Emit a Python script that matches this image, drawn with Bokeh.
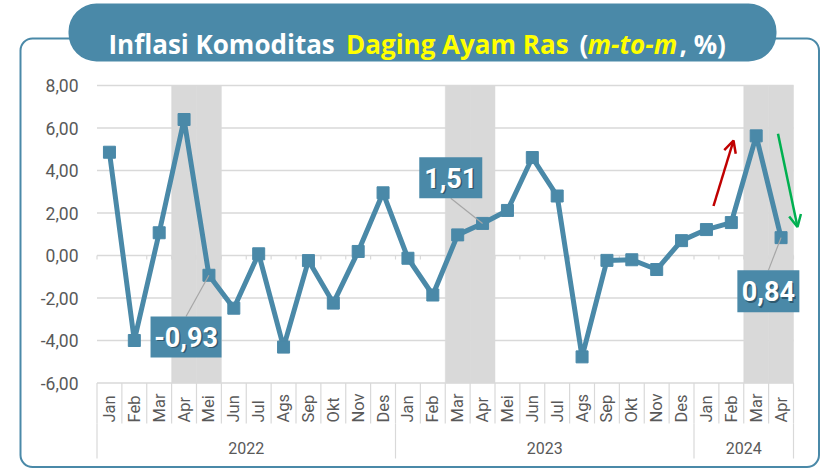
import numpy as np
from bokeh.plotting import figure
from bokeh.models import Range1d, BoxAnnotation, Label, Arrow, OpenHead
from bokeh.core.properties import value
from bokeh.embed import file_html
from bokeh.resources import INLINE

# ---------------- data ----------------
years = ["2022", "2023", "2024"]
months_2022 = ["Jan", "Feb", "Mar", "Apr", "Mei", "Jun", "Jul", "Ags", "Sep", "Okt", "Nov", "Des"]
months_2023 = ["Jan", "Feb", "Mar", "Apr", "Mei", "Jun", "Jul", "Ags", "Sep", "Okt", "Nov", "Des"]
months_2024 = ["Jan", "Feb", "Mar", "Apr"]
inflasi_2022 = [4.86, -4.00, 1.07, 6.40, -0.93, -2.48, 0.08, -4.31, -0.24, -2.24, 0.19, 2.95]
inflasi_2023 = [-0.13, -1.86, 0.97, 1.51, 2.12, 4.61, 2.80, -4.77, -0.23, -0.20, -0.66, 0.70]
inflasi_2024 = [1.22, 1.55, 5.63, 0.84]
y_ticks = [-6, -4, -2, 0, 2, 4, 6, 8]
shaded_periods = [("2022", "Apr"), ("2022", "Mei"), ("2023", "Mar"), ("2023", "Apr"),
                  ("2024", "Mar"), ("2024", "Apr")]
labelled_periods = [("2022", "Mei"), ("2023", "Apr"), ("2024", "Apr")]
title_parts = ["Inflasi Komoditas", "Daging Ayam Ras", "(", "m-to-m", ", %)"]

months_by_year = {"2022": months_2022, "2023": months_2023, "2024": months_2024}
values_by_year = {"2022": inflasi_2022, "2023": inflasi_2023, "2024": inflasi_2024}
periods, months, vals = [], [], []
for y in years:
    for m, v in zip(months_by_year[y], values_by_year[y]):
        periods.append((y, m))
        months.append(m)
        vals.append(v)
N = len(periods)
xpos = [i + 0.5 for i in range(N)]          # category centres on the x scale

# ---------------- styles / geometry ----------------
BLUE = "#4a89a8"
GRID = "#d9d9d9"
TXT = "#595959"
AXF = "Roboto"
W, H = 820, 468
X0, X1 = 96.5, 793.0          # plot-area left/right (px)
Y8 = 85.0                     # px position of the top tick
PX_U = 21.25                  # px per y unit
PX_C = (X1 - X0) / N          # px per category


def cx(px):  # canvas px -> x coordinate
    return (px - X0) / PX_C


def cy(py):  # canvas px -> y coordinate
    return y_ticks[-1] - (py - Y8) / PX_U


p = figure(width=W, height=H, x_range=Range1d(cx(0), cx(W)), y_range=Range1d(cy(H), cy(0)),
           output_backend="svg", toolbar_location=None,
           x_axis_location=None, y_axis_location=None,
           min_border=0, min_border_left=0, min_border_right=0,
           min_border_top=0, min_border_bottom=0)
p.xgrid.visible = False
p.ygrid.visible = False
p.outline_line_color = None
p.background_fill_color = "white"
p.border_fill_color = "white"

# shaded months
shade_x = [periods.index(sp) + 0.5 for sp in shaded_periods]
p.vbar(x=shade_x, width=1.0, bottom=y_ticks[0], top=y_ticks[-1], fill_color=GRID,
       line_color=GRID, line_width=0.5)

# horizontal gridlines + y tick labels
p.segment(x0=[0] * len(y_ticks), x1=[N] * len(y_ticks), y0=y_ticks, y1=y_ticks,
          line_color=GRID, line_width=1.5)
p.text(x=[cx(78)] * len(y_ticks), y=y_ticks,
       text=[f"{t:.2f}".replace(".", ",") for t in y_ticks],
       text_align="right", text_baseline="middle", text_font=value(AXF),
       text_font_size="17.5px", text_color=TXT)

# category axis furniture (boundaries)
bounds = [float(b) for b in range(N + 1)]
month_end = cy(423)
p.segment(x0=bounds, y0=[y_ticks[0]] * len(bounds), x1=bounds, y1=[month_end] * len(bounds),
          line_color=GRID, line_width=1.2)
year_bounds = [0.0]
for y in years:
    year_bounds.append(year_bounds[-1] + len(months_by_year[y]))
p.segment(x0=year_bounds, y0=[month_end] * len(year_bounds), x1=year_bounds,
          y1=[cy(458)] * len(year_bounds), line_color=GRID, line_width=1.2)
# zero-line tick marks
p.segment(x0=bounds, y0=[0] * len(bounds), x1=bounds, y1=[-4 / PX_U] * len(bounds),
          line_color=GRID, line_width=1.2)

p.text(x=xpos, y=[cy(422)] * N, text=months, angle=np.pi / 2, text_align="left",
       text_baseline="middle", text_font=value(AXF), text_font_size="16.5px", text_color=TXT)
year_centers = [(a + b) / 2 for a, b in zip(year_bounds[:-1], year_bounds[1:])]
p.text(x=year_centers, y=[cy(447)] * len(years), text=years,
       text_align="center", text_baseline="middle", text_font=value(AXF),
       text_font_size="16px", text_color=TXT)

# main series
p.line(x=xpos, y=vals, line_color=BLUE, line_width=5, line_join="round")
p.scatter(x=xpos, y=vals, marker="square", size=12, fill_color=BLUE, line_color=BLUE)

# data labels (box offsets in px relative to the point, box size in px)
label_style = {("2022", "Mei"): (-22.9, 61.7, 71, 41),
               ("2023", "Apr"): (-31.8, -45.6, 63, 41),
               ("2024", "Apr"): (-12.7, 53.7, 62, 42)}
for sp in labelled_periods:
    i = periods.index(sp)
    v = vals[i]
    dx, dy, bw, bh = label_style[sp]
    xc = xpos[i] + dx / PX_C
    yc = v - dy / PX_U
    hw, hh = bw / 2 / PX_C, bh / 2 / PX_U
    ye = yc + hh if dy > 0 else yc - hh
    p.segment(x0=[xpos[i]], y0=[v], x1=[xc], y1=[ye], line_color="#a6a6a6", line_width=1.2)
    p.add_layout(BoxAnnotation(left=xc - hw, right=xc + hw, bottom=yc - hh, top=yc + hh,
                               fill_color=BLUE, fill_alpha=1.0, line_color=None))
    txt = f"{v:.2f}".replace(".", ",")
    p.add_layout(Label(x=xc, y=yc, text=txt, text_align="center",
                       text_baseline="middle", text_font=AXF, text_font_style="bold",
                       text_font_size="27px", text_color="#1d3a48", text_alpha=0.6,
                       x_offset=1.5, y_offset=-1.5))
    p.add_layout(Label(x=xc, y=yc, text=txt, text_align="center",
                       text_baseline="middle", text_font=AXF, text_font_style="bold",
                       text_font_size="27px", text_color="white"))

# trend arrows
p.add_layout(Arrow(end=OpenHead(line_color="#c00000", line_width=2.5, size=12),
                   x_start=cx(713), y_start=cy(205.5), x_end=cx(733), y_end=cy(140),
                   line_color="#c00000", line_width=2.5))
p.add_layout(Arrow(end=OpenHead(line_color="#00b050", line_width=2.5, size=12),
                   x_start=cx(777.5), y_start=cy(133.3), x_end=cx(797), y_end=cy(226.5),
                   line_color="#00b050", line_width=2.5))

# outer frame and title pill
p.add_layout(BoxAnnotation(left=cx(20), right=cx(818.5), top=cy(38), bottom=cy(466.5),
                           fill_color=None, fill_alpha=0,
                           line_color=BLUE, line_alpha=1.0, line_width=2, border_radius=12))
p.add_layout(BoxAnnotation(left=cx(68), right=cx(776), top=cy(3), bottom=cy(61),
                           fill_color=BLUE, fill_alpha=1.0,
                           line_color=None, border_radius=28))

title_x = [108, 345.5, 579, 587, 679]
title_col = ["white", "#ffff00", "white", "#ffff00", "white"]
title_sty = ["bold", "bold", "bold", "bold italic", "bold"]
for t, x0, c, s in zip(title_parts, title_x, title_col, title_sty):
    p.add_layout(Label(x=cx(x0), y=cy(43.5), text=t, text_align="left",
                       text_baseline="alphabetic", text_font="Open Sans", text_font_style=s,
                       text_font_size="26px", text_color=c))

open("out.html", "w").write(file_html(p, INLINE))
